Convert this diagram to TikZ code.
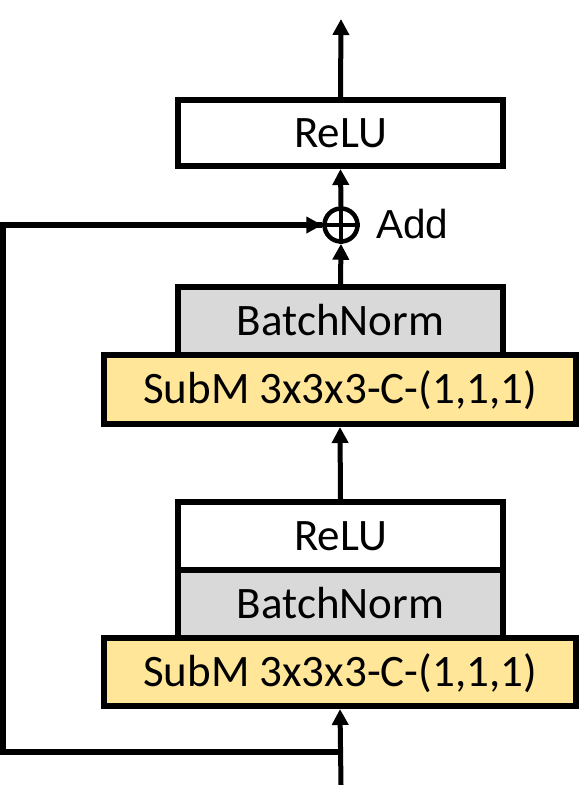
\documentclass[tikz,border=0pt]{standalone}
\usepackage{fontspec}
\setmainfont{Carlito}
\newfontfamily\addfont{Liberation Sans}
\usetikzlibrary{arrows.meta}
\definecolor{bngray}{HTML}{D9D9D9}
\definecolor{convyellow}{HTML}{FFE699}
\tikzset{
  blockbox/.style={draw=black, line width=6pt, minimum width=325pt, minimum height=67pt,
    inner sep=0pt, font=\fontsize{45}{52}\selectfont, text height=28.5pt, text depth=0pt},
  relubox/.style={blockbox, fill=white},
  bnbox/.style={blockbox, fill=bngray},
  convbox/.style={blockbox, fill=convyellow, minimum width=472pt},
  flow/.style={line width=5pt, -{Triangle[width=16pt,length=16pt]}},
}
\begin{document}
\begin{tikzpicture}[x=1pt,y=-1pt]
\useasboundingbox (0,0) rectangle (581,785);
% upper block
\node[relubox, minimum height=66pt] (relu2) at (340.5,133) {ReLU};
\node[bnbox, minimum height=68pt] (bn2) at (340.5,321) {BatchNorm};
\node[convbox, minimum height=69pt] (conv2) at (340,389.5) {SubM 3x3x3-C-(1,1,1)};
% lower block
\node[relubox, minimum height=68pt] (relu1) at (340.5,536) {ReLU};
\node[bnbox, minimum height=68pt] (bn1) at (340.5,604) {BatchNorm};
\node[convbox, minimum height=68pt] (conv1) at (340,672) {SubM 3x3x3-C-(1,1,1)};
% add node
\node[circle, draw=black, line width=4.5pt, minimum size=33pt, inner sep=0pt] (add) at (341,225) {};
\draw[line width=4pt] (add.north) -- (add.south) (add.west) -- (add.east);
\node[anchor=base west, inner sep=0pt, font=\addfont\fontsize{40.5}{46}\selectfont] (addlabel) at (376,238.5) {Add};
% coordinates
\coordinate (in) at (341,785);
\coordinate (split) at (341,752);
\coordinate (c1) at (3,752);
\coordinate (c2) at (3,225);
\coordinate (out) at (341,19);
% connectors
\draw[flow] (in) -- (conv1.south);
\draw[flow] (relu1.north) -- (conv2.south);
\draw[flow] (bn2.north) -- (add.south);
\draw[flow] (add.north) -- (relu2.south);
\draw[flow] (relu2.north) -- (out);
\draw[line width=6pt] (split) -- (c1) -- (c2) -- (c2 -| add.west);
\draw[flow] ([xshift=-20pt]add.west) -- (add.west);
\end{tikzpicture}
\end{document}
